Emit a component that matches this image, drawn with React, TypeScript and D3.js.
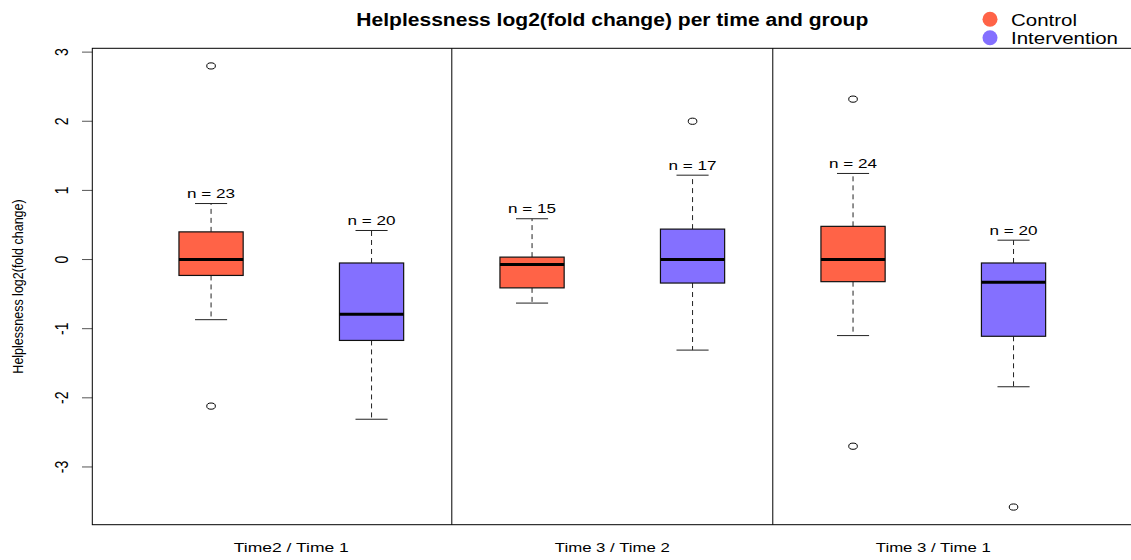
import React from "react";
import * as d3 from "d3";

// Comparisons (x groups) and the two study arms
const comparisons = ["Time2 / Time 1", "Time 3 / Time 2", "Time 3 / Time 1"];
const groups = ["Control", "Intervention"];
const groupColors = ["#FF6347", "#8470FF"];

// Box statistics per box, ordered comparison by comparison, Control then Intervention
const lowerWhisker = [-0.87, -2.31, -0.63, -1.31, -1.1, -1.84];
const q1 = [-0.23, -1.17, -0.41, -0.34, -0.32, -1.11];
const median = [0.0, -0.79, -0.07, 0.0, 0.0, -0.33];
const q3 = [0.4, -0.05, 0.035, 0.44, 0.48, -0.05];
const upperWhisker = [0.81, 0.42, 0.59, 1.22, 1.245, 0.28];
const sampleSizes = [23, 20, 15, 17, 24, 20];
const outliers: number[][] = [[2.8, -2.12], [], [], [2.0], [2.32, -2.7], [-3.58]];

const yTicks = [3, 2, 1, 0, -1, -2, -3];

const W = 1131;
const H = 560;
const plotLeft = 92.3;
const plotRight = 1132.3;
const plotTop = 48.3;
const plotBottom = 524.7;
const font = "'Liberation Sans', Arial, Helvetica, sans-serif";

export default function App() {
  const nBoxes = median.length;
  const allVals = [...lowerWhisker, ...upperWhisker, ...outliers.flat()];
  const [vMin, vMax] = d3.extent(allVals) as [number, number];
  const pad = (vMax - vMin) * 0.04;
  const y = d3.scaleLinear().domain([vMin - pad, vMax + pad]).range([plotBottom, plotTop]);
  const xPad = nBoxes * 0.04;
  const x = d3
    .scaleLinear()
    .domain([0.5 - xPad, nBoxes + 0.5 + xPad])
    .range([plotLeft, plotRight]);

  const boxHalf = x(1.2) - x(1);
  const capHalf = x(1.1) - x(1);

  const boxes = d3.range(nBoxes).map((i) => ({
    pos: i + 1,
    color: groupColors[i % 2],
    lo: lowerWhisker[i],
    q1: q1[i],
    med: median[i],
    q3: q3[i],
    hi: upperWhisker[i],
    n: sampleSizes[i],
    out: outliers[i],
  }));

  return (
    <svg
      width={W}
      height={H}
      style={{ position: "absolute", left: 0, top: 0, background: "#fff" }}
      fontFamily={font}
    >
      {/* title */}
      <text
        x={(plotLeft + plotRight) / 2}
        y={26}
        textAnchor="middle"
        fontWeight="bold"
        fontSize={17.5}
        textLength={512}
        lengthAdjust="spacingAndGlyphs"
        fill="#000"
      >
        Helplessness log2(fold change) per time and group
      </text>

      {/* legend */}
      {groups.map((g, i) => (
        <g key={g}>
          <circle cx={990} cy={19.3 + i * 18.4} r={7.5} fill={groupColors[i]} />
          <text
            x={1011}
            y={25.8 + i * 17.8}
            fontSize={16.2}
            textLength={i === 0 ? 66 : 107}
            lengthAdjust="spacingAndGlyphs"
            fill="#000"
          >
            {g}
          </text>
        </g>
      ))}

      {/* y axis ticks and labels */}
      {yTicks.map((t) => (
        <g key={t}>
          <line x1={82} x2={plotLeft} y1={y(t)} y2={y(t)} stroke="#555" strokeWidth={1} />
          <text
            transform={`translate(68.3,${y(t)}) rotate(-90) scale(1,1.3)`}
            textAnchor="middle"
            fontSize={14}
            fill="#000"
          >
            {t}
          </text>
        </g>
      ))}
      <text
        transform={`translate(23.3,${(plotTop + plotBottom) / 2}) rotate(-90) scale(1,1.2)`}
        textAnchor="middle"
        fontSize={12.5}
        fill="#000"
      >
        Helplessness log2(fold change)
      </text>

      {/* boxes */}
      {boxes.map((b, i) => {
        const cx = x(b.pos);
        return (
          <g key={i}>
            <line x1={cx} x2={cx} y1={y(b.q3)} y2={y(b.hi)} stroke="#222" strokeDasharray="5,4" />
            <line x1={cx} x2={cx} y1={y(b.q1)} y2={y(b.lo)} stroke="#222" strokeDasharray="5,4" />
            <line x1={cx - capHalf} x2={cx + capHalf} y1={y(b.hi)} y2={y(b.hi)} stroke="#222" />
            <line x1={cx - capHalf} x2={cx + capHalf} y1={y(b.lo)} y2={y(b.lo)} stroke="#222" />
            <rect
              x={cx - boxHalf}
              y={y(b.q3)}
              width={boxHalf * 2}
              height={y(b.q1) - y(b.q3)}
              fill={b.color}
              stroke="#111"
              strokeWidth={1.2}
            />
            <line
              x1={cx - boxHalf}
              x2={cx + boxHalf}
              y1={y(b.med)}
              y2={y(b.med)}
              stroke="#000"
              strokeWidth={3}
            />
            {b.out.map((o, k) => (
              <ellipse key={k} cx={cx} cy={y(o)} rx={4.3} ry={3.1} fill="none" stroke="#000" strokeWidth={1} />
            ))}
            <text
              x={cx}
              y={y(b.hi) - 5.5}
              textAnchor="middle"
              fontSize={12.5}
              textLength={48}
              lengthAdjust="spacingAndGlyphs"
              fill="#000"
            >
              {`n = ${b.n}`}
            </text>
          </g>
        );
      })}

      {/* separators between comparisons */}
      {d3.range(1, comparisons.length).map((k) => (
        <line
          key={k}
          x1={x(k * 2 + 0.5)}
          x2={x(k * 2 + 0.5)}
          y1={plotTop}
          y2={plotBottom}
          stroke="#000"
          strokeWidth={1}
        />
      ))}

      {/* x labels */}
      {comparisons.map((c, k) => (
        <text
          key={c}
          x={x(k * 2 + 1.5)}
          y={552}
          textAnchor="middle"
          fontSize={12.5}
          textLength={115}
          lengthAdjust="spacingAndGlyphs"
          fill="#000"
        >
          {c}
        </text>
      ))}

      {/* plot frame */}
      <rect
        x={plotLeft}
        y={plotTop}
        width={plotRight - plotLeft}
        height={plotBottom - plotTop}
        fill="none"
        stroke="#000"
        strokeWidth={1}
      />
    </svg>
  );
}
